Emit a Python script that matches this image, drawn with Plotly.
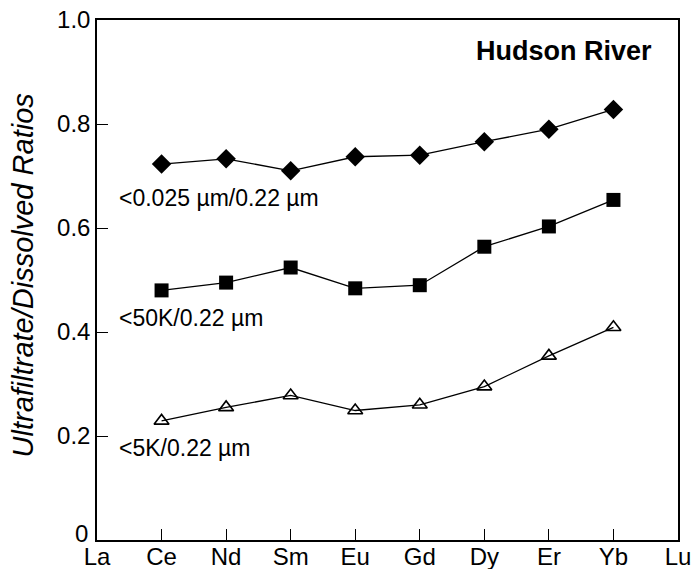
import plotly.graph_objects as go

elements = ["La", "Ce", "Nd", "Sm", "Eu", "Gd", "Dy", "Er", "Yb", "Lu"]
data_elements = ["Ce", "Nd", "Sm", "Eu", "Gd", "Dy", "Er", "Yb"]

ratio_0025 = [0.723, 0.733, 0.710, 0.737, 0.740, 0.766, 0.790, 0.828]
ratio_50k = [0.480, 0.495, 0.524, 0.484, 0.490, 0.564, 0.603, 0.654]
ratio_5k = [0.229, 0.255, 0.278, 0.249, 0.260, 0.295, 0.354, 0.409]

series_labels = ["<0.025 µm/0.22 µm", "<50K/0.22 µm", "<5K/0.22 µm"]
label_y = [0.658, 0.427, 0.177]

ytick_vals = [0, 0.2, 0.4, 0.6, 0.8, 1.0]
ytick_text = ["0", "0.2", "0.4", "0.6", "0.8", "1.0"]

FONT = "Liberation Sans, Arial, Helvetica, sans-serif"

fig = go.Figure()
fig.add_trace(go.Scatter(
    x=data_elements, y=ratio_0025, mode="lines+markers",
    line=dict(color="black", width=1.3),
    marker=dict(symbol="diamond", size=15, color="black"),
    showlegend=False))
fig.add_trace(go.Scatter(
    x=data_elements, y=ratio_50k, mode="lines+markers",
    line=dict(color="black", width=1.3),
    marker=dict(symbol="square", size=14, color="black"),
    showlegend=False))
fig.add_trace(go.Scatter(
    x=data_elements, y=ratio_5k, mode="lines+markers",
    line=dict(color="black", width=1.3),
    marker=dict(symbol="triangle-up-open", size=13, color="black",
                line=dict(width=1.6, color="black")),
    showlegend=False))

for txt, yy in zip(series_labels, label_y):
    fig.add_annotation(x=0.31, y=yy, xref="x", yref="y", text=txt,
                       showarrow=False, xanchor="left", yanchor="middle",
                       font=dict(family=FONT, size=23, color="black"))

fig.add_annotation(x=8.63, y=0.94, xref="x", yref="y", text="<b>Hudson River</b>",
                   showarrow=False, xanchor="right", yanchor="middle",
                   font=dict(family=FONT, size=27, color="black"))

fig.add_annotation(x=-0.128, y=0.508, xref="paper", yref="paper",
                   text="Ultrafiltrate/Dissolved Ratios", textangle=-90,
                   showarrow=False, xanchor="center", yanchor="middle",
                   font=dict(family=FONT, size=29, color="black", style="italic"))

# the "0" tick label sits slightly above the axis corner in the reference
fig.add_annotation(x=0, y=ytick_vals[0], xref="paper", yref="y",
                   text=ytick_text[0], showarrow=False,
                   xanchor="right", yanchor="middle", xshift=-7, yshift=7,
                   font=dict(family=FONT, size=24, color="black"))

fig.update_xaxes(
    type="category", categoryorder="array", categoryarray=elements,
    range=[0, 9], showgrid=False, zeroline=False, automargin=False,
    showline=True, linecolor="black", linewidth=2, mirror=True,
    ticks="inside", ticklen=11, tickwidth=1.3, tickcolor="black",
    ticklabelstandoff=-6,
    tickfont=dict(family=FONT, size=24, color="black"))
fig.update_yaxes(
    range=[0, 1.0], tickvals=ytick_vals, ticktext=[""] + ytick_text[1:],
    showgrid=False, zeroline=False, automargin=False,
    showline=True, linecolor="black", linewidth=1.5, mirror=True,
    ticks="inside", ticklen=11, tickwidth=1.3, tickcolor="black",
    tickfont=dict(family=FONT, size=24, color="black"))

fig.update_layout(
    width=693, height=569,
    margin=dict(l=97, r=15, t=20, b=29),
    paper_bgcolor="white", plot_bgcolor="white",
    font=dict(family=FONT, color="black"))

fig.write_html("out.html")
